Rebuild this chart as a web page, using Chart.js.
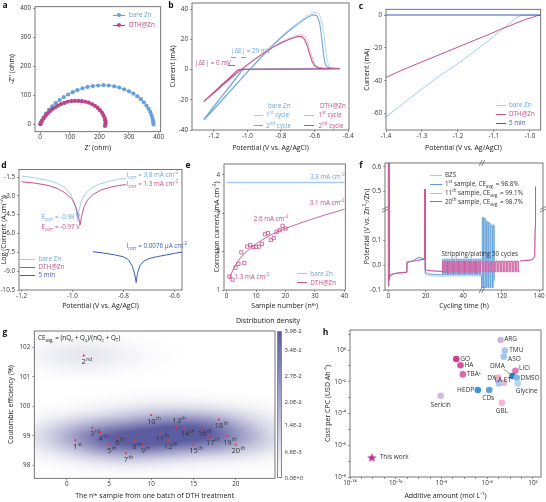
<!DOCTYPE html>
<html>
<head>
<meta charset="utf-8">
<script src="https://cdn.jsdelivr.net/npm/chart.js@4.4.1/dist/chart.umd.min.js"></script>
<style>
  html, body { margin: 0; background: #fff; }
  #wrap { position: relative; width: 546px; height: 502px; overflow: hidden; font-family: "Open Sans", sans-serif; color: #333; }
  #wrap canvas { position: absolute; }
  .t { position: absolute; font-size: 6.3px; line-height: 8px; white-space: nowrap; transform: translateY(-50%); }
  .t sup, .t sub { font-size: 4.4px; line-height: 0; }
  .lbl { position: absolute; font-size: 8.5px; font-weight: bold; line-height: 9px; color: #111; transform: translate(-50%, -50%); }
  .sw { position: absolute; height: 0; }
  .cb { position: absolute; border: 0.6px solid #888; box-sizing: border-box; }
</style>
</head>
<body>
<div id="wrap"></div>
<script>
// ---------------- data ----------------
// a: Nyquist plot
const eisBareRe = [2, 6, 12, 20, 30, 41, 53, 66, 80, 95, 110, 126, 143, 160, 178, 196, 214, 232, 250, 267, 284, 300, 315, 328, 340, 350, 359, 366, 372, 376, 379, 381, 382, 383];
const eisBareIm = [2, 12, 24, 37, 50, 62, 73, 84, 94, 103, 111, 118, 124, 129, 132, 134, 135, 134, 131, 127, 121, 114, 106, 97, 87, 76, 65, 54, 43, 32, 22, 13, 6, 0];
const eisDthRe = [1, 4, 8, 13, 19, 26, 34, 42, 51, 61, 71, 82, 93, 105, 117, 129, 141, 153, 164, 175, 185, 194, 202, 209, 214, 218, 220, 221, 221, 219];
const eisDthIm = [1, 8, 15, 22, 30, 38, 46, 53, 59, 65, 70, 74, 78, 80, 81, 81, 80, 78, 75, 70, 64, 57, 49, 40, 31, 22, 14, 7, 2, -5];
const aXTicks = [0, 100, 200, 300, 400];
const aYTicks = [0, 100, 200, 300, 400];

// b: CV loops [potential, current]
const cvBare1 = [[-0.45,0.8],[-0.6,0.5],[-0.8,0.35],[-0.95,0.25],[-1.02,0.1],[-1.035,-0.5],[-1.055,-3.5],[-1.1,-10],[-1.15,-17],[-1.2,-24],[-1.26,-32.5],
  [-1.2,-25.6],[-1.15,-19.6],[-1.1,-13.6],[-1.05,-7.5],[-1.0,-1.4],[-0.95,4.7],[-0.9,10.7],[-0.85,16.4],[-0.8,21.7],[-0.75,26.6],[-0.7,31.0],[-0.66,34.4],[-0.63,36.6],[-0.6,38.0],[-0.575,37.2],[-0.56,33],[-0.545,24],[-0.535,14],[-0.525,6],[-0.515,2.5],[-0.5,1.3],[-0.47,0.9],[-0.45,0.8]];
const cvBare2 = [[-0.45,0.6],[-0.6,0.4],[-0.8,0.3],[-0.95,0.2],[-1.02,0.1],[-1.03,-0.4],[-1.05,-3.2],[-1.1,-10.5],[-1.15,-17.5],[-1.2,-24.5],[-1.26,-33.5],
  [-1.2,-26.3],[-1.15,-20.2],[-1.1,-14.1],[-1.05,-7.9],[-1.0,-1.8],[-0.95,4.3],[-0.9,10.2],[-0.85,15.8],[-0.8,21.0],[-0.75,25.8],[-0.7,30.0],[-0.66,33.2],[-0.63,35.3],[-0.605,36.3],[-0.585,35.4],[-0.57,31],[-0.56,23],[-0.55,13],[-0.54,5],[-0.53,2],[-0.51,1.1],[-0.48,0.8],[-0.45,0.7]];
const cvDth1 = [[-0.45,0.55],[-0.6,0.4],[-0.8,0.3],[-1.0,0.2],[-1.05,0.05],[-1.062,-0.8],[-1.1,-4.6],[-1.15,-9.6],[-1.2,-14.8],[-1.26,-20.8],
  [-1.2,-15.1],[-1.15,-10.2],[-1.1,-5.4],[-1.05,-0.9],[-1.0,3.4],[-0.95,7.5],[-0.9,11.4],[-0.85,15.0],[-0.8,18.1],[-0.76,20.3],[-0.72,22.1],[-0.69,23.0],[-0.67,22.9],[-0.655,21.5],[-0.64,17.5],[-0.625,12],[-0.61,6.5],[-0.595,3],[-0.575,1.4],[-0.54,0.9],[-0.5,0.7],[-0.45,0.6]];
const cvDth2 = [[-0.45,0.5],[-0.6,0.35],[-0.8,0.25],[-1.0,0.15],[-1.05,0.05],[-1.06,-0.6],[-1.1,-4.8],[-1.15,-9.9],[-1.2,-15.1],[-1.26,-21.2],
  [-1.2,-15.5],[-1.15,-10.6],[-1.1,-5.8],[-1.05,-1.2],[-1.0,3.1],[-0.95,7.2],[-0.9,11.0],[-0.85,14.5],[-0.8,17.5],[-0.76,19.6],[-0.72,21.2],[-0.695,21.9],[-0.675,21.6],[-0.66,20],[-0.645,16],[-0.63,10.5],[-0.615,5.5],[-0.6,2.5],[-0.58,1.2],[-0.55,0.8],[-0.5,0.6],[-0.45,0.55]];
const bXTicks = [-1.2, -1.0, -0.8, -0.6, -0.4];
const bYTicks = [-40, -20, 0, 20, 40];

// c: LSV
const lsvBare = [[-1.4,-62],[-1.35,-53.5],[-1.3,-45],[-1.25,-37],[-1.2,-29.5],[-1.15,-21.5],[-1.1,-13],[-1.07,-7.5],[-1.05,-4],[-1.04,-2],[-1.03,-0.7],[-1.02,-0.2],[-1.0,0],[-0.97,0]];
const lsvDth = [[-1.4,-38],[-1.35,-33],[-1.3,-28.5],[-1.25,-24],[-1.2,-19.5],[-1.15,-15],[-1.1,-10.5],[-1.08,-8.5],[-1.05,-6],[-1.03,-4.2],[-1.01,-2.5],[-0.99,-1.2],[-0.98,-0.4],[-0.97,-0.1]];
const lsv5min = [[-1.4,0],[-0.97,0]];
const cXTicks = [-1.4, -1.3, -1.2, -1.1, -1.0];
const cYTicks = [-60, -40, -20, 0];

// d: Tafel
const tafBare = [[-1.2,-1.42],[-1.15,-1.55],[-1.1,-1.75],[-1.06,-2.0],[-1.03,-2.35],[-1.01,-2.8],[-0.995,-3.4],[-0.985,-4.2],[-0.98,-5.0],[-0.975,-4.2],[-0.965,-3.4],[-0.95,-2.85],[-0.93,-2.45],[-0.9,-2.1],[-0.86,-1.85],[-0.82,-1.68],[-0.79,-1.6]];
const tafDth = [[-1.2,-1.88],[-1.15,-1.98],[-1.1,-2.15],[-1.06,-2.4],[-1.03,-2.75],[-1.0,-3.3],[-0.985,-4.0],[-0.975,-4.8],[-0.97,-5.3],[-0.965,-4.7],[-0.955,-3.9],[-0.94,-3.3],[-0.92,-2.9],[-0.89,-2.55],[-0.85,-2.3],[-0.82,-2.18],[-0.79,-2.1]];
const taf5min = [[-0.92,-7.45],[-0.88,-7.55],[-0.84,-7.68],[-0.8,-7.85],[-0.78,-8.1],[-0.765,-8.6],[-0.755,-9.3],[-0.75,-9.9],[-0.745,-9.2],[-0.735,-8.55],[-0.72,-8.2],[-0.7,-8.0],[-0.67,-7.85],[-0.63,-7.7],[-0.6,-7.58],[-0.57,-7.48]];
const dXTicks = [-1.2, -1.0, -0.8, -0.6];
const dYTicks = [-10.5, -9.0, -7.5, -6.0, -4.5, -3.0, -1.5];

// e: corrosion current vs sample number
const eN = [1, 2, 3, 4, 5, 6, 7, 8, 9, 10, 11, 12, 13, 14, 15, 16, 17, 18, 19, 20];
const eCorr = [1.35, 1.27, 1.58, 1.68, 1.98, 1.70, 2.13, 2.17, 2.12, 2.12, 2.13, 2.20, 2.45, 2.48, 2.30, 2.35, 2.52, 2.56, 2.67, 2.60];
const eFit = [[1,1.3],[2,1.5],[3,1.65],[4,1.76],[5,1.86],[6,1.94],[8,2.08],[10,2.2],[12,2.3],[15,2.43],[18,2.54],[20,2.6],[25,2.74],[30,2.87],[35,2.99],[40,3.1]];
const eBare = [[0,3.8],[40,3.8]];
const eXTicks = [0, 10, 20, 30, 40];
const eYTicks = [1, 2, 3, 4];

// f: cycling (time h, potential V)
const fPre20 = [[0,-0.085],[0,0.7],[0.4,0.7],[0.5,-0.06],[1,-0.042],[2,-0.036],[5,-0.031],[9.9,-0.028],[10,0.013],[12,0.015],[15,0.02],[18,0.023],[19.2,0.025],[19.4,0.51],[19.6,0.51],[19.8,-0.018],[21,-0.02],[24,-0.023],[29,-0.025]];
const fPre11 = [[0,-0.08],[0.3,-0.05],[1,-0.04],[3,-0.034],[6,-0.03],[9.9,-0.027],[10,0.014],[13,0.017],[16,0.021],[19.2,0.024],[19.4,0.5],[19.6,0.5],[19.8,-0.02],[22,-0.021],[26,-0.023],[29,-0.024]];
const fPre1 = [[0,-0.085],[0.3,-0.055],[1,-0.04],[3,-0.034],[6,-0.031],[9.9,-0.029],[10,0.011],[12,0.016],[14,0.022],[15.5,0.03],[16.5,0.033],[17.5,0.03],[19.2,0.027],[19.4,0.5],[19.6,0.5],[19.8,-0.03],[21,-0.034],[24,-0.037],[29,-0.038]];
const fPreBzs = [[0,-0.08],[0.3,-0.05],[1,-0.038],[3,-0.033],[6,-0.03],[9.9,-0.028],[10,0.012],[13,0.018],[15,0.026],[16,0.03],[17,0.031],[18,0.028],[19.2,0.026],[19.4,0.49],[19.6,0.49],[19.8,-0.036],[21,-0.04],[24,-0.043],[29,-0.045]];
const fOscLeftT = [29.0,29.65,30.3,30.95,31.6,32.25,32.9,33.55,34.2,34.85,35.5,36.15,36.8,37.45,38.1,38.75,39.4,40.05,40.7,41.35,42.0,42.65,43.3,43.95,44.6,45.25,45.9,46.55,47.2,47.85,48.5,49.15,49.8];
const fOscRightT = [109.6,110.4,111.2,112.0,112.8,113.6,114.4,115.2,116.0,116.8,117.6,118.4,119.2,120.0,120.8,121.6,122.4,123.2,124.0,124.8,125.6,126.4,127.2,128.0,128.8,129.6];
const f20Left = [0.016,-0.028,0.016,-0.028,0.016,-0.028,0.016,-0.028,0.016,-0.028,0.016,-0.028,0.016,-0.028,0.016,-0.028,0.016,-0.028,0.016,-0.028,0.016,-0.028,0.016,-0.028,0.016,-0.028,0.016,-0.028,0.016,-0.028,0.016,-0.028,0.016];
const f20Right = [0.016,-0.026,0.016,-0.026,0.016,-0.026,0.016,-0.026,0.016,-0.026,0.016,-0.026,0.016,-0.026,0.016,-0.026,0.016,-0.026,0.016,-0.026,0.016,-0.026,0.016,-0.026,0.016,-0.026];
const f11Left = [0.019,-0.025,0.019,-0.025,0.019,-0.025,0.019,-0.025,0.019,-0.025,0.019,-0.025,0.019,-0.025,0.019,-0.025,0.019,-0.025,0.019,-0.025,0.019,-0.025,0.019,-0.025,0.019,-0.025,0.019,-0.025,0.019,-0.025,0.019,-0.025,0.019];
const f11Right = [0.018,-0.024,0.018,-0.024,0.018,-0.024,0.018,-0.024,0.018,-0.024,0.018,-0.024,0.018,-0.024,0.018,-0.024,0.018,-0.024,0.018,-0.024,0.018,-0.024,0.018,-0.024,0.018,-0.024];
const f1Left = [0.023,-0.037,0.023,-0.037,0.023,-0.037,0.023,-0.037,0.023,-0.037,0.023,-0.037,0.023,-0.037,0.023,-0.037,0.023,-0.037,0.023,-0.037,0.023,-0.037,0.023,-0.037,0.023,-0.037,0.023,-0.037,0.023,-0.037,0.023,-0.037,0.023];
const fBzsLeft = [0.027,-0.044,0.027,-0.044,0.027,-0.044,0.027,-0.044,0.027,-0.044,0.027,-0.044,0.027,-0.044,0.027,-0.044,0.027,-0.044,0.027,-0.044,0.027,-0.044,0.027,-0.044,0.027,-0.044,0.027,-0.044,0.027,-0.044,0.027,-0.044,0.027];
const fSpike1 = [[49.8,-0.037],[109.6,-0.09],[110.2,0.195],[110.6,-0.09],[111.4,0.19],[111.8,-0.09],[112.6,0.178],[113.0,-0.09],[113.8,0.17],[114.2,-0.09],[115.0,0.16],[115.4,-0.09],[116.0,0.162],[116.3,-0.06]];
const fSpikeBzs = [[49.8,-0.044],[109.6,-0.09],[110.0,0.19],[110.4,-0.092],[111.2,0.185],[111.6,-0.092],[112.4,0.172],[112.8,-0.092],[113.6,0.175],[114.0,-0.092],[114.8,0.165],[115.2,-0.092],[115.8,0.165],[116.1,-0.07]];
const fTail20 = [[129.6,0.016],[130.2,0.018],[132,0.019],[134,0.02],[135.5,0.021],[136.5,0.024],[137.2,0.034],[137.6,0.06],[137.85,0.15],[138.0,0.52],[138.3,0.52]];
const fTail11 = [[129.6,0.018],[130.2,0.02],[132,0.021],[134,0.022],[135.5,0.023],[136.5,0.026],[137.2,0.036],[137.6,0.065],[137.85,0.16],[138.05,0.5],[138.3,0.5]];
const fXTicks = [0, 20, 40, 120, 140];
const fYTicks = [-0.1, 0.0, 0.1, 0.5, 0.6];

// g: Coulombic efficiency of 20 samples
const gN = [1, 2, 3, 4, 5, 6, 7, 8, 9, 10, 11, 12, 13, 14, 15, 16, 17, 18, 19, 20];
const gCE = [98.85, 101.72, 99.27, 99.12, 98.70, 98.99, 98.41, 98.83, 98.70, 99.70, 99.13, 98.85, 99.28, 99.27, 98.70, 99.27, 98.99, 99.55, 98.99, 98.70];
const gAbove = [13];
const gXTicks = [0, 5, 10, 15, 20];
const gYTicks = [98, 99, 100, 101, 102];
const cbValues = [0.039, 0.034, 0.027, 0.020, 0.014, 0.0068, 0];
const cbLabels = ['3.9E-2', '3.4E-2', '2.7E-2', '2.0E-2', '1.4E-2', '6.8E-3', '0.0E+0'];

// h: cost vs additive amount
const hNames = ['ARG', 'TMU', 'ASO', 'GO', 'HA', 'TBA\u207A', 'LiCl', 'DMA', 'DMSO', 'DX', 'LA', 'ET', 'Glycine', 'HEDP', 'CDs', 'GBL', 'Sericin'];
const hAmount = [0.145, 0.35, 0.28, 1.95e-5, 4.6e-5, 7.4e-5, 2.9, 1.6, 3.8, 0.091, 0.105, 0.30, 4.6, 1.5e-3, 0.015, 0.19, 8.5e-7];
const hCost = [4.3, 0.91, 0.38, 0.27, 0.11, 0.029, 0.049, 0.023, 0.018, 0.018, 0.0079, 0.0087, 0.0079, 0.003, 0.003, 4.7e-4, 1.3e-3];
const hColors = ['#c8b6e2', '#a9c9ec', '#a3c7ea', '#d23c8a', '#d8559c', '#d86aa9', '#e27cb2', '#2f7cc4', '#7db8e4', '#f2a8cd', '#a6cbec', '#e8b6d8', '#b4d4ef', '#3f92d2', '#5aa4da', '#f3b6d6', '#cbbde3'];
const thisWork = [[8e-13, 1.7e-7]];
const hXLabelExp = [-14, -10, -6, -2, 2];
const hYLabelExp = [-8, -6, -4, -2, 0];

// ---------------- styling ----------------
const C_BLUE = '#6ea6dc', C_BLUE_L = '#a8cbec', C_PINK = '#c4508c', C_PINK_L = '#e4a8ca', C_NAVY = '#3d5db3';
const A_BLUE = '#6a9fd6', A_PINK = '#b94684';
const F_BZS = '#a9cdee', F_1 = '#5b9bd5', F_11 = '#c9b4da', F_20 = '#d6529a';
const TEXT = '#333';

Chart.defaults.font.family = '"Open Sans", sans-serif';
Chart.defaults.color = TEXT;
Chart.defaults.animation = false;
Chart.defaults.responsive = false;
Chart.defaults.events = [];
Chart.defaults.plugins.legend.display = false;
Chart.defaults.plugins.tooltip.enabled = false;

// box around every plot area
Chart.register({
  id: 'frame',
  afterDraw(c) {
    const { ctx, chartArea: a } = c;
    ctx.save();
    ctx.strokeStyle = '#555';
    ctx.lineWidth = 0.8;
    ctx.strokeRect(a.left, a.top, a.right - a.left, a.bottom - a.top);
    ctx.restore();
  }
});

// linear axis with one gap cut out (panel f)
class BrokenScale extends Chart.LinearScale {
  fold(v) { const g = this.options.gap; return v <= g[0] ? v : (v >= g[1] ? v - (g[1] - g[0]) : g[0]); }
  getPixelForValue(v) {
    const lo = this.fold(this.min), hi = this.fold(this.max);
    return this.getPixelForDecimal((this.fold(v) - lo) / (hi - lo));
  }
}
BrokenScale.id = 'broken';
BrokenScale.defaults = Chart.LinearScale.defaults;
Chart.register(BrokenScale);

const wrap = document.getElementById('wrap');
const zip = (xs, ys) => xs.map((x, i) => [x, ys[i]]);

function axis(dir, min, max, title, at, fmt, type) {
  return {
    type: type || 'linear', min, max,
    afterBuildTicks: s => { s.ticks = at.map(v => ({ value: v })); },
    grid: { drawOnChartArea: false, tickLength: 2, color: '#555', lineWidth: 0.6 },
    border: { display: false },
    ticks: { padding: dir === 'x' ? 0 : 2, autoSkip: false, maxRotation: 0, color: TEXT, font: { size: 6.3 }, callback: fmt || (v => String(v)) },
    title: { display: true, text: title, color: '#222', font: { size: 7 }, padding: { top: 1.5, bottom: 1.5 } }
  };
}

function line(data, color, width, extra) {
  return Object.assign({ data, borderColor: color, backgroundColor: color, borderWidth: width, pointRadius: 0, fill: false, tension: 0 }, extra || {});
}

function panel(area, yTitleX, xTitleY, cfg) {
  const [l, t, r, b] = area;
  const x0 = Math.round(yTitleX - 5.7), y0 = Math.round(t - 7);
  const x1 = Math.round(r + 10), y1 = Math.round(xTitleY + 5.7);
  const cv = document.createElement('canvas');
  cv.width = x1 - x0; cv.height = y1 - y0;
  cv.style.left = x0 + 'px'; cv.style.top = y0 + 'px';
  wrap.appendChild(cv);
  const o = cfg.options;
  o.layout = { padding: { left: 0, top: t - y0, right: x1 - r, bottom: 0 } };
  o.scales.x.afterFit = s => { s.height = y1 - b; s.paddingLeft = 0; s.paddingRight = 0; };
  o.scales.y.afterFit = s => { s.width = l - x0; s.paddingTop = 0; s.paddingBottom = 0; };
  return new Chart(cv, cfg);
}

function txt(x, y, html, color, style) {
  const d = document.createElement('div');
  d.className = 't';
  d.innerHTML = html;
  d.style.left = x + 'px';
  d.style.top = y + 'px';
  if (color) d.style.color = color;
  if (style) Object.assign(d.style, style);
  wrap.appendChild(d);
  return d;
}
function sw(x1, x2, y, color, w) {
  const d = document.createElement('div');
  d.className = 'sw';
  d.style.left = x1 + 'px'; d.style.width = (x2 - x1) + 'px';
  d.style.top = (y - w / 2) + 'px';
  d.style.borderTop = w + 'px solid ' + color;
  wrap.appendChild(d);
}
function letter(x, y, s) {
  const d = document.createElement('div');
  d.className = 'lbl'; d.textContent = s;
  d.style.left = x + 'px'; d.style.top = y + 'px';
  wrap.appendChild(d);
}
const fix1 = v => v.toFixed(1);
const SUP = { '-': '\u207B', '0': '\u2070', '1': '\u00B9', '2': '\u00B2', '3': '\u00B3', '4': '\u2074', '5': '\u2075', '6': '\u2076', '7': '\u2077', '8': '\u2078', '9': '\u2079' };
const pow10 = k => '10' + String(k).split('').map(ch => SUP[ch]).join('');

// ---------------- a ----------------
panel([35, 6.7, 160.7, 131.7], 12, 148, {
  type: 'line',
  data: { datasets: [
    line(zip(eisDthRe, eisDthIm), A_PINK, 0.8, { pointRadius: 2.1, pointBackgroundColor: A_PINK, pointBorderWidth: 0 }),
    line(zip(eisBareRe, eisBareIm), A_BLUE, 0.8, { pointRadius: 2.1, pointBackgroundColor: A_BLUE, pointBorderWidth: 0 })
  ]},
  options: { scales: {
    x: axis('x', -17, 407, "Z' (ohm)", aXTicks),
    y: axis('y', -25, 405, "-Z'' (ohm)", aYTicks)
  }}
});

// ---------------- b ----------------
panel([192, 3, 349, 130], 173, 148, {
  type: 'line',
  data: { datasets: [
    line(cvDth2, C_PINK, 1.1), line(cvBare2, C_BLUE, 1.1),
    line(cvDth1, C_PINK_L, 0.8), line(cvBare1, C_BLUE_L, 0.8)
  ]},
  options: { scales: {
    x: axis('x', -1.33, -0.395, 'Potential (V vs. Ag/AgCl)', bXTicks, fix1),
    y: axis('y', -40, 44, 'Current (mA)', bYTicks)
  }}
});

// ---------------- c ----------------
panel([386, 9.3, 540.7, 130], 367, 148, {
  type: 'line',
  data: { datasets: [
    line(lsv5min, C_NAVY, 1.1), line(lsvDth, C_PINK, 1), line(lsvBare, C_BLUE_L, 1)
  ]},
  options: { scales: {
    x: axis('x', -1.4, -0.97, 'Potential (V vs. Ag/AgCl)', cXTicks, fix1),
    y: axis('y', -70, 3.5, 'Current (mA)', cYTicks)
  }}
});

// ---------------- d ----------------
panel([19, 169.5, 182, 290], 4, 306.7, {
  type: 'line',
  data: { datasets: [
    line(taf5min, C_NAVY, 1), line(tafDth, C_PINK, 1), line(tafBare, C_BLUE_L, 1)
  ]},
  options: { scales: {
    x: axis('x', -1.21, -0.57, 'Potential (V vs. Ag/AgCl)', dXTicks, fix1),
    y: axis('y', -10.5, -0.9, 'Log (Current (A cm\u207B\u00B2))', dYTicks, fix1)
  }}
});

// ---------------- e ----------------
panel([224, 164, 345.3, 290], 216.3, 306.7, {
  type: 'line',
  data: { datasets: [
    line(zip(eN, eCorr), C_PINK, 0.8, { showLine: false, pointStyle: 'rect', pointRadius: 2.3, pointBackgroundColor: 'rgba(0,0,0,0)', pointBorderColor: C_PINK, pointBorderWidth: 0.8 }),
    line(eFit, C_PINK, 0.9, { tension: 0.3 }),
    line(eBare, C_BLUE_L, 1.4)
  ]},
  options: { scales: {
    x: axis('x', -0.9, 40.3, 'Sample number (n\u1D57\u02B0)', eXTicks),
    y: axis('y', 1, 4.28, 'Corrosion current (mA cm\u207B\u00B2)', eYTicks)
  }}
});

// ---------------- f ----------------
const fX = axis('x', -1.76, 142, 'Cycling time (h)', fXTicks, null, 'broken');
fX.gap = [50, 109.4];
const fY = axis('y', -0.1, 0.616, 'Potential (V vs. Zn\u00B2\u207A/Zn)', fYTicks, fix1, 'broken');
fY.gap = [0.227, 0.428];
panel([385, 163, 543, 290], 366.5, 306.7, {
  type: 'line',
  data: { datasets: [
    line(fPre20, F_20, 1), line(zip(fOscLeftT.concat(fOscRightT), f20Left.concat(f20Right)), F_20, 0.9, { stepped: 'after' }), line(fTail20, F_20, 1),
    line(fPre11, F_11, 0.9), line(zip(fOscLeftT.concat(fOscRightT), f11Left.concat(f11Right)), F_11, 0.9, { stepped: 'after' }), line(fTail11, F_11, 0.9),
    line(fPre1, F_1, 0.9), line(zip(fOscLeftT, f1Left), F_1, 0.9, { stepped: 'after' }), line(fSpike1, F_1, 0.8, { stepped: 'after' }),
    line(fPreBzs, F_BZS, 0.9), line(zip(fOscLeftT, fBzsLeft), F_BZS, 0.9, { stepped: 'after' }), line(fSpikeBzs, F_BZS, 0.8, { stepped: 'after' })
  ]},
  options: { scales: { x: fX, y: fY } },
  plugins: [{
    id: 'breaks',
    afterDraw(c) {
      const { ctx, chartArea: a, scales: { x, y } } = c;
      const bx = x.getPixelForValue(x.options.gap[0]), by = y.getPixelForValue(y.options.gap[0]);
      ctx.save();
      ctx.strokeStyle = '#555'; ctx.lineWidth = 0.7;
      ctx.beginPath();
      [a.top, a.bottom].forEach(py => [-1.3, 1.3].forEach(d => { ctx.moveTo(bx + d - 1.5, py + 3); ctx.lineTo(bx + d + 1.5, py - 3); }));
      [a.left, a.right].forEach(px => [-1.3, 1.3].forEach(d => { ctx.moveTo(px - 3, by + d + 1.5); ctx.lineTo(px + 3, by + d - 1.5); }));
      ctx.stroke();
      ctx.restore();
    }
  }]
});

// ---------------- g ----------------
const BWX = 4.3, BWY = 0.36, CMAX = 0.034;
const CB_TOP = [92, 92, 160];
panel([34.3, 331, 275, 478.3], 11, 496.7, {
  type: 'scatter',
  data: { datasets: [{ data: zip(gN, gCE), pointStyle: 'rect', pointRadius: 1.3, pointBackgroundColor: '#f03030', pointBorderWidth: 0 }] },
  options: { scales: {
    x: axis('x', -3.86, 24.65, 'The n\u1D57\u02B0 sample from one batch of DTH treatment', gXTicks),
    y: axis('y', 97.56, 102.55, 'Coulombic efficiency (%)', gYTicks)
  }},
  plugins: [{
    id: 'density',
    beforeDatasetsDraw(c) {
      const { ctx, chartArea: a, scales: { x, y } } = c;
      const w = Math.round(a.right - a.left), h = Math.round(a.bottom - a.top);
      const off = document.createElement('canvas');
      off.width = w; off.height = h;
      const octx = off.getContext('2d');
      const img = octx.createImageData(w, h);
      const norm = 1 / (gN.length * 2 * Math.PI * BWX * BWY);
      for (let j = 0; j < h; j++) {
        const yv = y.getValueForPixel(a.top + j + 0.5);
        for (let i = 0; i < w; i++) {
          const xv = x.getValueForPixel(a.left + i + 0.5);
          let d = 0;
          for (let k = 0; k < gN.length; k++) {
            const dx = (xv - gN[k]) / BWX, dy = (yv - gCE[k]) / BWY;
            d += Math.exp(-0.5 * (dx * dx + dy * dy));
          }
          const tt = Math.min(1, d * norm / CMAX), p = (j * w + i) * 4;
          img.data[p] = 255 - tt * (255 - CB_TOP[0]);
          img.data[p + 1] = 255 - tt * (255 - CB_TOP[1]);
          img.data[p + 2] = 255 - tt * (255 - CB_TOP[2]);
          img.data[p + 3] = 255;
        }
      }
      octx.putImageData(img, 0, 0);
      ctx.drawImage(off, a.left, a.top);
    },
    afterDatasetsDraw(c) {
      const { ctx } = c;
      const meta = c.getDatasetMeta(0);
      ctx.save();
      ctx.fillStyle = '#333'; ctx.textBaseline = 'middle'; ctx.textAlign = 'left';
      meta.data.forEach((pt, i) => {
        const n = gN[i], suf = n === 1 ? 'st' : n === 2 ? 'nd' : n === 3 ? 'rd' : 'th';
        ctx.font = '7.6px "Open Sans"';
        const w = ctx.measureText(String(n)).width;
        const yy = pt.y + (gAbove.includes(n) ? -6.5 : 6.5);
        const xs = pt.x - w / 2;
        ctx.fillText(String(n), xs, yy);
        ctx.font = '5px "Open Sans"';
        ctx.fillText(suf, xs + w + 0.3, yy - 2.6);
      });
      ctx.restore();
    }
  }]
});

// ---------------- h ----------------
const hLabelPos = [[3.7,-1,'left'],[4.3,-1,'left'],[4.3,2,'left'],[4,0,'left'],[4,0,'left'],[4,0,'left'],[3.7,-3,'left'],[-15,-10,'center'],[3.7,0,'left'],[-2.5,0,'right'],[-0.5,-3.3,'center'],[3.3,-2.7,'center'],[9,7.3,'center'],[-3.7,0,'right'],[-1,7.7,'center'],[0,8,'center'],[0,9.3,'center']];
function starImg(size, color) {
  const c = document.createElement('canvas');
  c.width = c.height = size;
  const x = c.getContext('2d');
  x.fillStyle = color;
  x.beginPath();
  for (let i = 0; i < 10; i++) {
    const r = i % 2 ? size * 0.21 : size / 2, an = -Math.PI / 2 + i * Math.PI / 5;
    x.lineTo(size / 2 + r * Math.cos(an), size / 2 + r * Math.sin(an) + size * 0.05);
  }
  x.closePath(); x.fill();
  return c;
}
const decades = (a, b) => { const out = []; for (let k = a; k <= b; k++) out.push(Math.pow(10, k)); return out; };
const hX = axis('x', 1e-14, Math.pow(10, 2.7), 'Additive amount (mol L\u207B\u00B9)', decades(-14, 2),
  v => { const k = Math.round(Math.log10(v)); return hXLabelExp.includes(k) ? pow10(k) : ''; }, 'logarithmic');
const hY = axis('y', 1e-8, Math.pow(10, 1.26), 'Cost per CPC (USD Ah\u207B\u00B9)', decades(-8, 1),
  v => { const k = Math.round(Math.log10(v)); return hYLabelExp.includes(k) ? pow10(k) : ''; }, 'logarithmic');
panel([350, 330, 541, 477], 328, 496.7, {
  type: 'scatter',
  data: { datasets: [
    { data: zip(hAmount, hCost), pointRadius: 3.3, pointBackgroundColor: hColors, pointBorderWidth: 0 },
    { data: thisWork, pointStyle: starImg(10, '#c0308a'), pointRadius: 5 }
  ]},
  options: { scales: { x: hX, y: hY } },
  plugins: [{
    id: 'hLabels',
    afterDatasetsDraw(c) {
      const { ctx } = c;
      const meta = c.getDatasetMeta(0);
      ctx.save();
      ctx.font = '6.5px "Open Sans"'; ctx.fillStyle = '#333'; ctx.textBaseline = 'middle';
      meta.data.forEach((pt, i) => {
        const [dx, dy, al] = hLabelPos[i];
        ctx.textAlign = al;
        ctx.fillText(hNames[i], pt.x + dx, pt.y + dy);
        if (hNames[i] === 'DMA') {
          ctx.strokeStyle = '#555'; ctx.lineWidth = 0.6;
          ctx.beginPath(); ctx.moveTo(pt.x - 9, pt.y - 7); ctx.lineTo(pt.x - 2, pt.y - 2); ctx.stroke();
        }
      });
      const st = c.getDatasetMeta(1).data[0];
      ctx.textAlign = 'left';
      ctx.fillText('This work', st.x + 8, st.y);
      ctx.restore();
    }
  }]
});

// ---------------- text overlays ----------------
letter(5, 4, 'a'); letter(171, 4, 'b'); letter(361, 4.5, 'c');
letter(4, 164, 'd'); letter(188, 164, 'e'); letter(361, 164, 'f');
letter(5, 330.5, 'g'); letter(325.5, 330.5, 'h');

// a legend
sw(113, 125, 15, A_BLUE, 0.8); txt(129, 15, 'bare Zn', A_BLUE);
sw(113, 125, 25, A_PINK, 0.8); txt(129, 25, 'DTH@Zn', A_PINK);
[[119, 15, A_BLUE], [119, 25, A_PINK]].forEach(([x, y, c]) => {
  const d = document.createElement('div');
  Object.assign(d.style, { position: 'absolute', left: (x - 2) + 'px', top: (y - 2) + 'px', width: '4px', height: '4px', borderRadius: '50%', background: c });
  wrap.appendChild(d);
});

// b annotations & legend
txt(231, 51, '|\u0394E| = 29 mV', C_BLUE);
sw(231, 236, 57, C_BLUE, 0.6); sw(241, 246, 57, C_BLUE, 0.6);
txt(195, 63, '|\u0394E| = 0 mV', C_PINK);
sw(228, 235, 65, C_PINK, 0.6);
txt(268, 106, 'bare Zn', C_BLUE);
txt(320, 106, 'DTH@Zn', C_PINK);
sw(254, 263, 115.3, C_BLUE_L, 0.8); txt(266, 115.3, '1<sup>st</sup> cycle', C_BLUE);
sw(254, 263, 125.7, C_BLUE, 1.1); txt(266, 125.7, '2<sup>nd</sup> cycle', C_BLUE);
sw(304, 314, 115.3, C_PINK_L, 0.8); txt(318.5, 115.3, '1<sup>st</sup> cycle', C_PINK);
sw(304, 314, 125.7, C_PINK, 1.1); txt(318.5, 125.7, '2<sup>nd</sup> cycle', C_PINK);

// c legend
sw(496, 506, 105, C_BLUE_L, 1); txt(509, 105, 'bare Zn', C_BLUE);
sw(496, 506, 114.3, C_PINK, 1); txt(509, 114.3, 'DTH@Zn', C_PINK);
sw(496, 506, 123.3, C_NAVY, 1.1); txt(509, 123.3, '5 min', C_NAVY);

// d annotations & legend
txt(126.5, 175, 'I<sub>corr</sub> = 3.8 mA cm<sup>-2</sup>', C_BLUE);
txt(126.5, 184, 'I<sub>corr</sub> = 1.3 mA cm<sup>-2</sup>', C_PINK);
txt(41.5, 217.3, 'E<sub>corr</sub> = -0.98 V', C_BLUE);
txt(41.5, 226.7, 'E<sub>corr</sub> = -0.97 V', C_PINK);
txt(126.5, 246, 'I<sub>corr</sub> = 0.0076 \u03BCA cm<sup>-2</sup>', C_NAVY);
sw(20, 35, 259.3, C_BLUE_L, 1); txt(38.5, 259.3, 'bare Zn', C_BLUE);
sw(20, 35, 267.3, C_PINK, 1); txt(38.5, 267.3, 'DTH@Zn', C_PINK);
sw(20, 35, 275, C_NAVY, 1); txt(38.5, 275, '5 min', C_NAVY);

// e annotations & legend
txt(310, 176.7, '3.8 mA cm<sup>-2</sup>', C_BLUE);
txt(309.7, 202.7, '3.1 mA cm<sup>-2</sup>', C_PINK);
txt(253.7, 219.3, '2.6 mA cm<sup>-2</sup>', C_PINK);
txt(234.5, 276.7, '1.3 mA cm<sup>-2</sup>', C_PINK);
sw(297, 307, 274, C_BLUE_L, 1.2); txt(310.3, 274, 'bare Zn', C_BLUE);
sw(297, 307, 282.7, C_PINK, 1); txt(310.3, 282.7, 'DTH@Zn', C_PINK);

// f legend & note
sw(430, 442, 175, F_BZS, 1); txt(445, 175, 'BZS');
sw(430, 442, 184, F_1, 1); txt(445, 184, '1<sup>st</sup> sample, CE<sub>avg.</sub> = 98.8%');
sw(430, 442, 193.3, F_11, 1); txt(445, 193.3, '11<sup>th</sup> sample, CE<sub>avg.</sub> = 99.1%');
sw(430, 442, 201.7, F_20, 1.2); txt(445, 201.7, '20<sup>th</sup> sample, CE<sub>avg.</sub> = 98.7%');
txt(441.5, 254.3, 'Stripping/plating 50 cycles');

// g formula, colorbar
txt(38, 337.5, 'CE<sub>avg.</sub> = (nQ<sub>c</sub> + Q<sub>s</sub>)/(nQ<sub>c</sub> + Q<sub>T</sub>)', '#222');
txt(268, 321, 'Distribution density', '#222', { transform: 'translate(-50%, -50%)', fontSize: '7px' });
const cbTop = 331, cbBot = 477.7;
const cb = document.createElement('div');
cb.className = 'cb';
Object.assign(cb.style, { left: '277.3px', top: cbTop + 'px', width: '5px', height: (cbBot - cbTop) + 'px',
  background: 'linear-gradient(to top, #ffffff, rgb(' + CB_TOP.join(',') + '))' });
wrap.appendChild(cb);
cbValues.forEach((v, i) => txt(284.5, cbBot - v / 0.039 * (cbBot - cbTop), cbLabels[i], TEXT, { fontSize: '6px' }));
</script>
</body>
</html>
